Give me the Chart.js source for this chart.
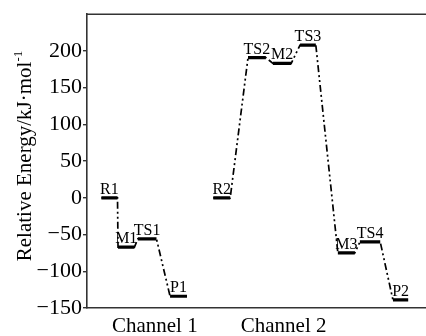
<!DOCTYPE html>
<html>
<head>
<meta charset="utf-8">
<script src="https://cdn.jsdelivr.net/npm/chart.js@4.4.1/dist/chart.umd.min.js"></script>
<style>
  html, body { margin: 0; padding: 0; background: #fff; }
  #wrap { width: 426px; height: 336px; }
</style>
</head>
<body>
<div id="wrap"><canvas id="chart" width="426" height="336"></canvas></div>
<script>
// Stationary points (reaction coordinate start/end, relative energy in kJ/mol)
const levelNames    = ['R1', 'M1', 'TS1', 'P1', 'R2', 'TS2', 'M2', 'TS3', 'M3', 'TS4', 'P2'];
const levelEnergies = [0, -67, -56, -134, 0, 191, 183, 208, -75, -60, -139];
const levelStart    = [0.85, 1.83, 3.0, 4.9, 7.45, 9.5, 10.97, 12.57, 14.8, 16.1, 18.05];
const levelEnd      = [1.8, 2.8, 4.1, 5.9, 8.45, 10.55, 12.05, 13.5, 15.8, 17.3, 18.95];
const channel1      = [0, 1, 2, 3];
const channel2      = [4, 5, 6, 7, 8, 9, 10];
const channelNames  = ['Channel 1', 'Channel 2'];
const channelTickAt = [4.0, 11.6];
const yTicks        = [-150, -100, -50, 0, 50, 100, 150, 200];

const FONT = "'Liberation Serif', 'Times New Roman', serif";

function pathPoints(idx) {
    const pts = [];
    idx.forEach(i => {
        pts.push({ x: levelStart[i], y: levelEnergies[i] });
        pts.push({ x: levelEnd[i], y: levelEnergies[i] });
    });
    return pts;
}

function levelPoints() {
    const pts = [];
    levelNames.forEach((n, i) => {
        pts.push({ x: levelStart[i], y: levelEnergies[i] });
        pts.push({ x: levelEnd[i], y: levelEnergies[i] });
        pts.push({ x: levelEnd[i], y: null });
    });
    return pts;
}

const connectorStyle = {
    borderColor: '#000',
    borderWidth: 1.7,
    borderDash: [7, 3, 2, 3, 2, 3],
    pointRadius: 0,
    fill: false,
    tension: 0
};

// frame, level labels and y title
const decor = {
    id: 'decor',
    afterDraw(chart) {
        const ctx = chart.ctx;
        const a = chart.chartArea;
        const xs = chart.scales.x, ys = chart.scales.y;
        ctx.save();
        ctx.strokeStyle = '#333';
        ctx.lineWidth = 1.6;
        ctx.beginPath();
        ctx.moveTo(a.left, a.top);
        ctx.lineTo(chart.width, a.top);
        ctx.stroke();

        ctx.fillStyle = '#000';
        ctx.font = '16px ' + FONT;
        ctx.textAlign = 'center';
        ctx.textBaseline = 'alphabetic';
        levelNames.forEach((n, i) => {
            const cx = xs.getPixelForValue((levelStart[i] + levelEnd[i]) / 2);
            const cy = ys.getPixelForValue(levelEnergies[i]);
            ctx.fillText(n, cx, cy - 4);
        });

        // rotated y title with superscript
        ctx.translate(31, 156);
        ctx.rotate(-Math.PI / 2);
        ctx.font = '21px ' + FONT;
        const main = 'Relative Energy/kJ\u00b7mol';
        const wMain = ctx.measureText(main).width;
        ctx.font = '13px ' + FONT;
        const sup = '-1';
        const wSup = ctx.measureText(sup).width;
        const x0 = -(wMain + wSup) / 2;
        ctx.textAlign = 'left';
        ctx.font = '21px ' + FONT;
        ctx.fillText(main, x0, 0);
        ctx.font = '13px ' + FONT;
        ctx.fillText(sup, x0 + wMain, -9);
        ctx.restore();
    }
};

new Chart(document.getElementById('chart'), {
    type: 'line',
    data: {
        datasets: [
            Object.assign({ data: pathPoints(channel1) }, connectorStyle),
            Object.assign({ data: pathPoints(channel2) }, connectorStyle),
            {
                data: levelPoints(),
                borderColor: '#000',
                borderWidth: 3.2,
                pointRadius: 0,
                spanGaps: false,
                fill: false
            }
        ]
    },
    options: {
        responsive: false,
        animation: false,
        events: [],
        layout: { padding: { top: 12, left: 0, right: 0, bottom: 0 } },
        plugins: { legend: { display: false }, tooltip: { enabled: false } },
        scales: {
            x: {
                type: 'linear',
                min: 0,
                max: 20,
                afterFit(scale) { scale.height = 28; },
                afterBuildTicks(scale) {
                    scale.ticks = channelTickAt.map(v => ({ value: v }));
                },
                ticks: {
                    autoSkip: false,
                    maxRotation: 0,
                    padding: -2,
                    color: '#000',
                    font: { family: FONT, size: 21 },
                    callback: function(v) {
                        const i = channelTickAt.indexOf(v);
                        return i >= 0 ? channelNames[i] : '';
                    }
                },
                grid: { display: false },
                border: { display: true, color: '#333', width: 1.6 }
            },
            y: {
                min: -150,
                max: 250,
                afterFit(scale) { scale.width = 87; },
                afterBuildTicks(scale) {
                    scale.ticks = yTicks.map(v => ({ value: v }));
                },
                ticks: {
                    padding: 1,
                    color: '#000',
                    font: { family: FONT, size: 22 },
                    callback: v => String(v).replace('-', '\u2212')
                },
                grid: { drawOnChartArea: false, tickLength: 4, color: '#333', lineWidth: 1.4 },
                border: { display: true, color: '#333', width: 1.6 }
            }
        }
    },
    plugins: [decor]
});
</script>
</body>
</html>
